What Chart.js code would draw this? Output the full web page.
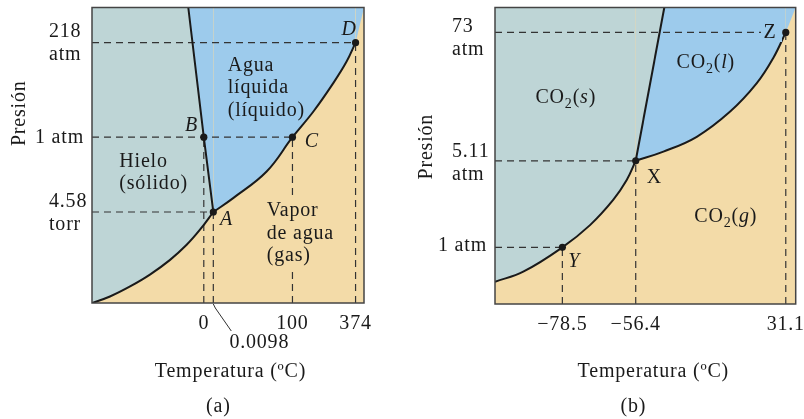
<!DOCTYPE html>
<html lang="es">
<head>
<meta charset="UTF-8">
<title>Diagramas de fases: agua y CO2</title>
<script src="https://cdn.jsdelivr.net/npm/chart.js"></script>
<style>
    body, html { margin: 0; padding: 0; background: #fff; }
    .panel { position: absolute; top: 0; width: 402px; height: 419px; }
    #panelA { left: 0; }
    #panelB { left: 402px; }
</style>
</head>
<body>
<div class="panel" id="panelA"><canvas id="chartA" width="402" height="419"></canvas></div>
<div class="panel" id="panelB"><canvas id="chartB" width="402" height="419"></canvas></div>
<script>
// Both diagrams are schematic: positions run 0-100 across the frame,
// the real temperatures / pressures only appear as tick labels.

// (a) agua
const aTempTicks = ['0', '0.0098', '100', '374'];
const aTempPos = [41.1, 44.6, 73.7, 96.9];
const aPresTicks = [['218', 'atm'], ['1 atm'], ['4.58', 'torr']];
const aPresPos = [88.1, 56.1, 30.8];
const aSublimation = [[0, 0], [6.6, 2.2], [14.0, 5.6], [21.3, 9.6], [28.7, 14.6], [34.8, 19.7], [39.7, 24.8], [44.6, 30.8]];
const aVaporization = [[44.6, 30.8], [51.9, 35.5], [64.2, 44.5], [73.7, 56.1], [81.4, 64.8], [88.7, 74.4], [93.6, 81.7], [96.9, 88.1]];
const aFusion = [[35.4, 100], [41.1, 56.1], [44.6, 30.8]];
const aPointNames = ['A', 'B', 'C', 'D'];
const aPoints = [[44.6, 30.8], [41.1, 56.1], [73.7, 56.1], [96.9, 88.1]];

// (b) dióxido de carbono
const bTempTicks = ['\u221278.5', '\u221256.4', '31.1'];
const bTempPos = [22.4, 46.8, 96.7];
const bPresTicks = [['73', 'atm'], ['5.11', 'atm'], ['1 atm']];
const bPresPos = [91.6, 48.3, 19.1];
const bSublimation = [[0, 7.5], [9.4, 10.9], [22.4, 19.1], [31.6, 26.6], [39.3, 35.1], [43.8, 41.8], [46.8, 48.3]];
const bVaporization = [[46.8, 48.3], [56.0, 51.4], [67.1, 56.4], [78.2, 64.9], [87.0, 74.4], [92.5, 82.9], [96.7, 91.6]];
const bFusion = [[46.8, 48.3], [56.3, 100]];
const bPointNames = ['X', 'Y', 'Z'];
const bPoints = [[46.8, 48.3], [22.4, 19.1], [96.7, 91.6]];

const SOLID = '#bed5d6';
const LIQUID = '#9dcbec';
const GAS = '#f3dba8';
const INK = '#1a1a1a';
const FONT = '"Liberation Serif", "Times New Roman", serif';

const xy = pts => pts.map(p => ({x: p[0], y: p[1]}));

// phase boundary; the area above it is painted with `above`
function boundary(pts, above, tension) {
    return {
        data: xy(pts), borderColor: INK, borderWidth: 2, pointRadius: 0,
        fill: 'end', backgroundColor: above, tension, order: 2
    };
}

function dashed(pts) {
    return {data: xy(pts), borderColor: '#333', borderWidth: 1.2, borderDash: [7, 5], pointRadius: 0, fill: false, order: 3};
}

function buildDatasets(sub, vap, fus, fusionAbove, points, tempPos, presPos) {
    const crit = vap[vap.length - 1];
    const sets = [
        boundary(fus, fusionAbove, 0),
        boundary(sub, SOLID, 0.4),
        boundary(vap, LIQUID, 0.4),
        // above the critical point: no boundary line, just the fluid colour
        {data: xy([crit, [100, 100]]), borderWidth: 0, pointRadius: 0, fill: 'end', backgroundColor: LIQUID, order: 4}
    ];
    // guide lines from each labelled pressure / temperature to its point
    presPos.forEach(v => {
        const xs = points.filter(p => p[1] === v).map(p => p[0]);
        sets.push(dashed([[0, v], [Math.max(...xs), v]]));
    });
    tempPos.forEach(v => {
        const p = points.find(p => p[0] === v);
        sets.push(dashed([[v, 0], [v, p[1]]]));
    });
    sets.push({data: xy(points), showLine: false, pointRadius: 3.6, pointBackgroundColor: INK, pointBorderWidth: 0, order: 1});
    return sets;
}

function setFont(ctx, size, italic) {
    ctx.font = (italic ? 'italic ' : '') + size + 'px ' + FONT;
}

// runs: [text, style] where style is 'i' (italic) or 'sub' (subscript)
function drawRuns(ctx, runs, x, y, align, size) {
    size = size || 20;
    let w = 0;
    for (const [t, s] of runs) {
        setFont(ctx, s === 'sub' ? 14 : size, s === 'i');
        w += ctx.measureText(t).width;
    }
    let cx = align === 'center' ? x - w / 2 : align === 'right' ? x - w : x;
    ctx.textAlign = 'left';
    for (const [t, s] of runs) {
        setFont(ctx, s === 'sub' ? 14 : size, s === 'i');
        ctx.fillText(t, cx, s === 'sub' ? y + 5 : y);
        cx += ctx.measureText(t).width;
    }
}

function phaseText(cfg) {
    return {
        id: 'phaseText',
        beforeDraw(chart) {
            // gas phase fills whatever lies below the boundaries
            const {ctx, chartArea: a} = chart;
            ctx.save();
            ctx.fillStyle = GAS;
            ctx.fillRect(a.left, a.top, a.width, a.height);
            ctx.restore();
        },
        afterDatasetsDraw(chart) {
            const {ctx, chartArea: area, scales: {x, y}} = chart;
            ctx.save();
            ctx.letterSpacing = '0.8px';
            ctx.textBaseline = 'alphabetic';

            // patches behind labels that sit over guide lines
            for (const p of cfg.patches) {
                ctx.fillStyle = p.color;
                ctx.fillRect(p.x, p.y, p.w, p.h);
            }

            ctx.strokeStyle = '#444';
            ctx.lineWidth = 1.5;
            ctx.strokeRect(area.left, area.top, area.width, area.height);

            ctx.fillStyle = INK;
            // pressure ticks
            cfg.presTicks.forEach((lines, i) => {
                const py = y.getPixelForValue(cfg.presPos[i]) + cfg.presDy[i];
                if (lines.length > 1) {
                    lines.forEach((t, k) => drawRuns(ctx, [[t]], area.left - 43, py + k * 23, 'left'));
                } else {
                    drawRuns(ctx, [[lines[0]]], area.left - 8, py, 'right');
                }
            });
            // temperature ticks
            cfg.tempTicks.forEach((t, i) => {
                const px = x.getPixelForValue(cfg.tempPos[i]);
                const lead = cfg.leaders[i];
                if (lead) {
                    ctx.strokeStyle = INK;
                    ctx.lineWidth = 0.9;
                    ctx.beginPath();
                    ctx.moveTo(px, area.bottom + 1);
                    ctx.lineTo(px + 2, area.bottom + 5);
                    ctx.lineTo(px + lead.dx - 28, area.bottom + lead.dy - 17);
                    ctx.stroke();
                    drawRuns(ctx, [[t]], px + lead.dx, area.bottom + lead.dy, 'center');
                } else {
                    drawRuns(ctx, [[t]], px, area.bottom + 26, 'center');
                }
            });
            // point names
            cfg.pointNames.forEach((n, i) => {
                const o = cfg.pointNudge[i];
                const px = x.getPixelForValue(cfg.points[i][0]);
                const py = y.getPixelForValue(cfg.points[i][1]);
                drawRuns(ctx, [[n, o.italic ? 'i' : '']], px + o.dx, py + o.dy, 'left');
            });
            // phase names
            for (const r of cfg.regions) {
                r.lines.forEach((runs, k) => drawRuns(ctx, runs, r.x, r.y + k * 22.5, r.align));
            }
            // axis titles
            drawRuns(ctx, [['Temperatura (\u00baC)']], cfg.titleX, 376.7, 'center');
            drawRuns(ctx, [[cfg.tag]], cfg.tagX, 412, 'center');
            ctx.save();
            ctx.translate(cfg.presX, cfg.presY);
            ctx.rotate(-Math.PI / 2);
            drawRuns(ctx, [['Presi\u00f3n']], 0, 0, 'center');
            ctx.restore();
            ctx.restore();
        }
    };
}

function makeChart(id, datasets, padding, text) {
    return new Chart(document.getElementById(id), {
        type: 'line',
        data: {datasets},
        options: {
            responsive: false,
            animation: false,
            events: [],
            layout: {padding},
            plugins: {
                legend: {display: false},
                tooltip: {enabled: false},
                filler: {drawTime: 'beforeDatasetsDraw'}
            },
            scales: {
                x: {type: 'linear', min: 0, max: 100, display: false},
                y: {type: 'linear', min: 0, max: 100, display: false}
            }
        },
        plugins: [phaseText(text)]
    });
}

makeChart('chartA',
    buildDatasets(aSublimation, aVaporization, aFusion, LIQUID, aPoints, aTempPos, aPresPos),
    {left: 92, right: 38, top: 7.5, bottom: 116},
    {
        presTicks: aPresTicks, presPos: aPresPos, presDy: [-6, 5.5, -5.3],
        tempTicks: aTempTicks, tempPos: aTempPos, leaders: [null, {dx: 46, dy: 45}, null, null],
        pointNames: aPointNames, points: aPoints,
        pointNudge: [
            {dx: 6.7, dy: 12.7, italic: true}, {dx: -18.7, dy: -6.6, italic: true},
            {dx: 12.3, dy: 9.6, italic: true}, {dx: -14, dy: -7.7, italic: true}
        ],
        regions: [
            {x: 227.7, y: 70.7, align: 'left', lines: [[['Agua']], [['l\u00edquida']], [['(l\u00edquido)']]]},
            {x: 119.3, y: 166.7, align: 'left', lines: [[['Hielo']], [['(s\u00f3lido)']]]},
            {x: 266.7, y: 216, align: 'left', lines: [[['Vapor']], [['de agua']], [['(gas)']]]}
        ],
        patches: [{x: 263, y: 199, w: 74, h: 70, color: GAS}],
        titleX: 230.5, tag: '(a)', tagX: 218.3, presX: 25, presY: 113.3
    });

makeChart('chartB',
    buildDatasets(bSublimation, bVaporization, bFusion, SOLID, bPoints, bTempPos, bPresPos),
    {left: 93, right: 8.3, top: 7.5, bottom: 115},
    {
        presTicks: bPresTicks, presPos: bPresPos, presDy: [-0.6, -4, 3.4],
        tempTicks: bTempTicks, tempPos: bTempPos, leaders: [null, null, null],
        pointNames: bPointNames, points: bPoints,
        pointNudge: [
            {dx: 11, dy: 22, italic: false}, {dx: 6, dy: 19.4, italic: true}, {dx: -22.4, dy: 5.4, italic: false}
        ],
        regions: [
            {x: 163.8, y: 103.3, align: 'center', lines: [[['CO'], ['2', 'sub'], ['('], ['s', 'i'], [')']]]},
            {x: 303.8, y: 68.3, align: 'center', lines: [[['CO'], ['2', 'sub'], ['('], ['l', 'i'], [')']]]},
            {x: 323.8, y: 221.7, align: 'center', lines: [[['CO'], ['2', 'sub'], ['('], ['g', 'i'], [')']]]}
        ],
        patches: [{x: 359, y: 22, w: 21, h: 20, color: LIQUID}],
        titleX: 251.3, tag: '(b)', tagX: 231.3, presX: 29.7, presY: 146.7
    });
</script>
</body>
</html>
